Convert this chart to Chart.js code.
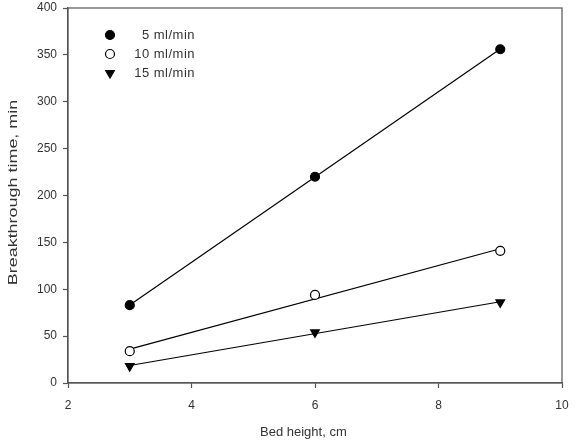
<!DOCTYPE html>
<html>
<head>
<meta charset="utf-8">
<script src="https://cdn.jsdelivr.net/npm/chart.js@4/dist/chart.umd.min.js"></script>
<style>
  html, body { margin: 0; padding: 0; background: #fff; }
  canvas { display: block; }
</style>
</head>
<body>
<canvas id="breakthroughChart" width="576" height="442"></canvas>
<script>
// bed height (cm) and breakthrough times (min)
var bedHeights = [3, 6, 9];
var flow5 = [83, 220, 356];
var flow10 = [34, 94, 141];
var flow15 = [18, 54, 86];
var seriesLabels = ["5 ml/min", "10 ml/min", "15 ml/min"];
var yTicks = [0, 50, 100, 150, 200, 250, 300, 350, 400];
var xTicks = [2, 4, 6, 8, 10];
var xTitle = "Bed height, cm";
var yTitle = "Breakthrough time, min";

var textColor = "#333";
var axisColor = "#555";
var fontFamily = "'Liberation Sans', Arial, sans-serif";

// least squares line through a series, evaluated at the first and last x
function fit_line(xs, ys) {
    var n = xs.length, sx = 0, sy = 0, sxx = 0, sxy = 0;
    for (var i = 0; i < n; i++) {
        sx += xs[i]; sy += ys[i]; sxx += xs[i] * xs[i]; sxy += xs[i] * ys[i];
    }
    var slope = (n * sxy - sx * sy) / (n * sxx - sx * sx);
    var icept = (sy - slope * sx) / n;
    var x0 = xs[0], x1 = xs[n - 1];
    return [{ x: x0, y: icept + slope * x0 }, { x: x1, y: icept + slope * x1 }];
}

function points(xs, ys) {
    return xs.map(function (x, i) { return { x: x, y: ys[i] }; });
}

function fit_dataset(ys) {
    return {
        data: fit_line(bedHeights, ys),
        borderColor: "#000",
        borderWidth: 1.2,
        pointRadius: 0,
        showLine: true,
        order: 2,
    };
}

var markerStyles = [
    { pointStyle: "circle", backgroundColor: "#000", borderColor: "#000", radius: 4.5, rotation: 0 },
    { pointStyle: "circle", backgroundColor: "#fff", borderColor: "#000", radius: 4.5, rotation: 0 },
    { pointStyle: "triangle", backgroundColor: "#000", borderColor: "#000", radius: 5, rotation: 180 },
];

function point_dataset(ys, idx) {
    var m = markerStyles[idx];
    return {
        label: seriesLabels[idx],
        data: points(bedHeights, ys),
        pointStyle: m.pointStyle,
        pointRotation: m.rotation,
        pointRadius: m.radius,
        pointBackgroundColor: m.backgroundColor,
        pointBorderColor: m.borderColor,
        pointBorderWidth: 1.2,
        showLine: false,
        order: 1,
    };
}

// frame, axis titles and the in-plot legend
var decorPlugin = {
    id: "decor",
    afterDraw: function (chart) {
        var ctx = chart.ctx, a = chart.chartArea;
        ctx.save();
        ctx.strokeStyle = axisColor;
        ctx.lineWidth = 1.2;
        ctx.strokeRect(a.left, a.top, a.right - a.left, a.bottom - a.top);

        ctx.fillStyle = textColor;
        ctx.font = "13px " + fontFamily;
        ctx.textBaseline = "middle";
        ctx.textAlign = "left";
        ctx.fillText(xTitle, 260, 432);

        ctx.save();
        ctx.translate(13, (a.top + a.bottom) / 2 - 3);
        ctx.rotate(-Math.PI / 2);
        ctx.scale(1.38, 1);
        ctx.textAlign = "center";
        ctx.fillText(yTitle, 0, 0);
        ctx.restore();

        ctx.font = "13px " + fontFamily;
        ctx.letterSpacing = "0.5px";
        ctx.textAlign = "right";
        for (var i = 0; i < seriesLabels.length; i++) {
            var y = 35 + i * 19;
            var m = markerStyles[i];
            ctx.fillStyle = m.backgroundColor;
            ctx.strokeStyle = m.borderColor;
            ctx.lineWidth = 1.2;
            Chart.helpers.drawPoint(ctx, {
                pointStyle: m.pointStyle,
                rotation: m.rotation,
                radius: m.radius,
                borderWidth: 1.2,
            }, 110, y);
            ctx.fillStyle = textColor;
            ctx.fillText(seriesLabels[i], 195, y);
        }
        ctx.restore();
    },
};

var chart = new Chart("breakthroughChart", {
    type: "scatter",
    data: {
        datasets: [
            fit_dataset(flow5),
            fit_dataset(flow10),
            fit_dataset(flow15),
            point_dataset(flow5, 0),
            point_dataset(flow10, 1),
            point_dataset(flow15, 2),
        ],
    },
    options: {
        responsive: false,
        animation: false,
        layout: { padding: { top: 8, right: 14, left: 0, bottom: 0 } },
        plugins: {
            legend: { display: false },
            tooltip: { enabled: false },
        },
        scales: {
            x: {
                type: "linear",
                min: 2,
                max: 10,
                afterBuildTicks: function (scale) {
                    scale.ticks = xTicks.map(function (v) { return { value: v }; });
                },
                afterFit: function (scale) {
                    scale.height = 59;
                    scale.paddingLeft = 0;
                    scale.paddingRight = 0;
                },
                grid: { drawOnChartArea: false, tickLength: 5, tickColor: axisColor, tickWidth: 1.2 },
                border: { color: axisColor, width: 1.2 },
                ticks: { color: textColor, font: { size: 12, family: fontFamily }, padding: 10, maxRotation: 0 },
            },
            y: {
                type: "linear",
                min: 0,
                max: 400,
                afterBuildTicks: function (scale) {
                    scale.ticks = yTicks.map(function (v) { return { value: v }; });
                },
                afterFit: function (scale) {
                    scale.width = 68;
                    scale.paddingTop = 0;
                    scale.paddingBottom = 0;
                },
                grid: { drawOnChartArea: false, tickLength: 5, tickColor: axisColor, tickWidth: 1.2 },
                border: { color: axisColor, width: 1.2 },
                ticks: { color: textColor, font: { size: 12, family: fontFamily }, padding: 6 },
            },
        },
    },
    plugins: [decorPlugin],
});
</script>
</body>
</html>
